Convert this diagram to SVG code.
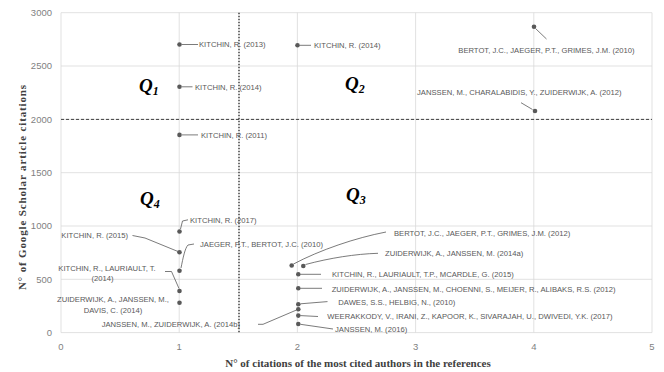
<svg xmlns="http://www.w3.org/2000/svg" width="664" height="372" viewBox="0 0 664 372">
<style>
.grid{stroke:#d9d9d9;stroke-width:0.8;fill:none}
.tick{font-family:"Liberation Sans",Arial,sans-serif;font-size:9.5px;fill:#7f7f7f}
.lbl{font-family:"Liberation Sans",Arial,sans-serif;font-size:7.65px;fill:#595959}
.ttl{font-family:"Liberation Serif","Times New Roman",serif;font-weight:bold;font-size:11px;fill:#404040}
.q{font-family:"Liberation Serif","Times New Roman",serif;font-weight:bold;font-style:italic;font-size:19px;fill:#000}
.qs{font-size:12px}
.lead{stroke:#595959;stroke-width:0.8;fill:none}
.pt{fill:#595959}
.ref{stroke:#404040;fill:none}
</style>
<rect width="664" height="372" fill="#fff"/>
<g id="gridlines">
<path class="grid" d="M61 12.7H652M61 66H652M61 119.4H652M61 172.7H652M61 226H652M61 279.3H652M61 332.6H652M61 12.7V332.6M179.2 12.7V332.6M297.4 12.7V332.6M415.6 12.7V332.6M533.8 12.7V332.6M652 12.7V332.6"/>
</g>
<g id="reference-lines">
<path class="ref" d="M61 119.4H652" stroke-width="1" stroke-dasharray="3 2"/>
<path class="ref" d="M239 12.7V332.6" stroke-width="1.5" stroke-dasharray="1.5 1.5"/>
</g>
<g id="axes">
<g class="tick" text-anchor="end">
<text x="52" y="16">3000</text>
<text x="52" y="69.3">2500</text>
<text x="52" y="122.7">2000</text>
<text x="52" y="176">1500</text>
<text x="52" y="229.3">1000</text>
<text x="52" y="282.6">500</text>
<text x="52" y="336">0</text>
</g>
<g class="tick" text-anchor="middle">
<text x="61" y="350">0</text>
<text x="179.2" y="350">1</text>
<text x="297.4" y="350">2</text>
<text x="415.6" y="350">3</text>
<text x="533.8" y="350">4</text>
<text x="652" y="350">5</text>
</g>
<text class="ttl" x="358" y="367" text-anchor="middle">N° of citations of the most cited authors in the references</text>
<text class="ttl" transform="translate(25.5 187.5) rotate(-90)" text-anchor="middle" textLength="205" lengthAdjust="spacing">N° of Google Scholar article citations</text>
</g>
<g id="quadrants">
<text class="q" x="139" y="92">Q<tspan class="qs" dy="3">1</tspan></text>
<text class="q" x="345" y="90">Q<tspan class="qs" dy="3">2</tspan></text>
<text class="q" x="346" y="201">Q<tspan class="qs" dy="3">3</tspan></text>
<text class="q" x="140" y="205">Q<tspan class="qs" dy="3">4</tspan></text>
</g>
<g id="connectors">
<path class="lead" d="M182 44.5H198"/>
<path class="lead" d="M182 86.8H192.5"/>
<path class="lead" d="M300 45.3H311"/>
<path class="lead" d="M535.5 28.5L546.5 39"/>
<path class="lead" d="M521 102.7L532.5 109.5"/>
<path class="lead" d="M182 134.9H198"/>
<path class="lead" d="M180.5 229L182.5 221L188 219.8"/>
<path class="lead" d="M181 268C183 258 185 248 188 245L194 244"/>
<path class="lead" d="M178 251.5L145 238L132.5 235.5"/>
<path class="lead" d="M165 271.5H171.5L179 288.5"/>
<path class="lead" d="M258 324.3H263L296.5 310"/>
<path class="lead" d="M293.5 264C320 250 355 238 386 232"/>
<path class="lead" d="M305.5 264.5C330 258 355 254 378 253.3"/>
<path class="lead" d="M300.5 274.3H321"/>
<path class="lead" d="M300.5 288.3H322"/>
<path class="lead" d="M300.5 303.8L327.5 301.6"/>
<path class="lead" d="M300.5 315.6L318 316.5"/>
<path class="lead" d="M300.5 324.3L333 329"/>
</g>
<g id="points" class="pt">
<circle cx="179.5" cy="44.5" r="2.3"/>
<circle cx="179.5" cy="86.8" r="2.3"/>
<circle cx="297.5" cy="45.3" r="2.3"/>
<circle cx="534" cy="26.7" r="2.3"/>
<circle cx="535" cy="111" r="2.3"/>
<circle cx="179.5" cy="134.9" r="2.3"/>
<circle cx="179.5" cy="231.5" r="2.3"/>
<circle cx="179.5" cy="252.3" r="2.3"/>
<circle cx="179.5" cy="270.7" r="2.3"/>
<circle cx="179.5" cy="291" r="2.3"/>
<circle cx="179.5" cy="302.7" r="2.3"/>
<circle cx="291.7" cy="265.5" r="2.3"/>
<circle cx="303.3" cy="266" r="2.3"/>
<circle cx="298.3" cy="274.3" r="2.3"/>
<circle cx="298.3" cy="288.3" r="2.3"/>
<circle cx="298.3" cy="304.3" r="2.3"/>
<circle cx="298.3" cy="309.3" r="2.3"/>
<circle cx="298.3" cy="315.6" r="2.3"/>
<circle cx="298.3" cy="324" r="2.3"/>
</g>
<g id="labels" class="lbl">
<g id="n-kitchin-2013"><text x="199" y="47.2">KITCHIN, R. (2013)</text></g>
<g id="n-kitchin-2014-a"><text x="195" y="89.5">KITCHIN, R. (2014)</text></g>
<g id="n-kitchin-2014-b"><text x="314" y="48">KITCHIN, R. (2014)</text></g>
<g id="n-bertot-2010"><text x="458.3" y="52.8">BERTOT, J.C., JAEGER, P.T., GRIMES, J.M. (2010)</text></g>
<g id="n-janssen-2012"><text x="417" y="95.1">JANSSEN, M., CHARALABIDIS, Y., ZUIDERWIJK, A. (2012)</text></g>
<g id="n-kitchin-2011"><text x="201" y="137.5">KITCHIN, R. (2011)</text></g>
<g id="n-kitchin-2017"><text x="190" y="222.8">KITCHIN, R. (2017)</text></g>
<g id="n-jaeger-2010"><text x="200" y="247">JAEGER, P.T., BERTOT, J.C. (2010)</text></g>
<g id="n-kitchin-2015"><text x="128" y="238" text-anchor="end">KITCHIN, R. (2015)</text></g>
<g id="n-kitchin-lauriault-2014"><text x="107" y="270.5" text-anchor="middle">KITCHIN, R., LAURIAULT, T.</text><text x="102.5" y="281.1" text-anchor="middle">(2014)</text></g>
<g id="n-zuiderwijk-davis-2014"><text x="113" y="302.1" text-anchor="middle">ZUIDERWIJK, A., JANSSEN, M.,</text><text x="113" y="312.8" text-anchor="middle">DAVIS, C. (2014)</text></g>
<g id="n-janssen-2014b"><text x="101.7" y="327">JANSSEN, M., ZUIDERWIJK, A. (2014b)</text></g>
<g id="n-bertot-2012"><text x="394" y="236.3">BERTOT, J.C., JAEGER, P.T., GRIMES, J.M. (2012)</text></g>
<g id="n-zuiderwijk-2014a"><text x="385" y="256">ZUIDERWIJK, A., JANSSEN, M. (2014a)</text></g>
<g id="n-kitchin-2015b"><text x="332" y="277">KITCHIN, R., LAURIAULT, T.P., MCARDLE, G. (2015)</text></g>
<g id="n-zuiderwijk-2012"><text x="331.7" y="291.7">ZUIDERWIJK, A., JANSSEN, M., CHOENNI, S., MEIJER, R., ALIBAKS, R.S. (2012)</text></g>
<g id="n-dawes-2010"><text x="338.3" y="305">DAWES, S.S., HELBIG, N., (2010)</text></g>
<g id="n-weerakkody-2017"><text x="327.3" y="318.7">WEERAKKODY, V., IRANI, Z., KAPOOR, K., SIVARAJAH, U., DWIVEDI, Y.K. (2017)</text></g>
<g id="n-janssen-2016"><text x="335" y="331.8">JANSSEN, M. (2016)</text></g>
</g>
</svg>
